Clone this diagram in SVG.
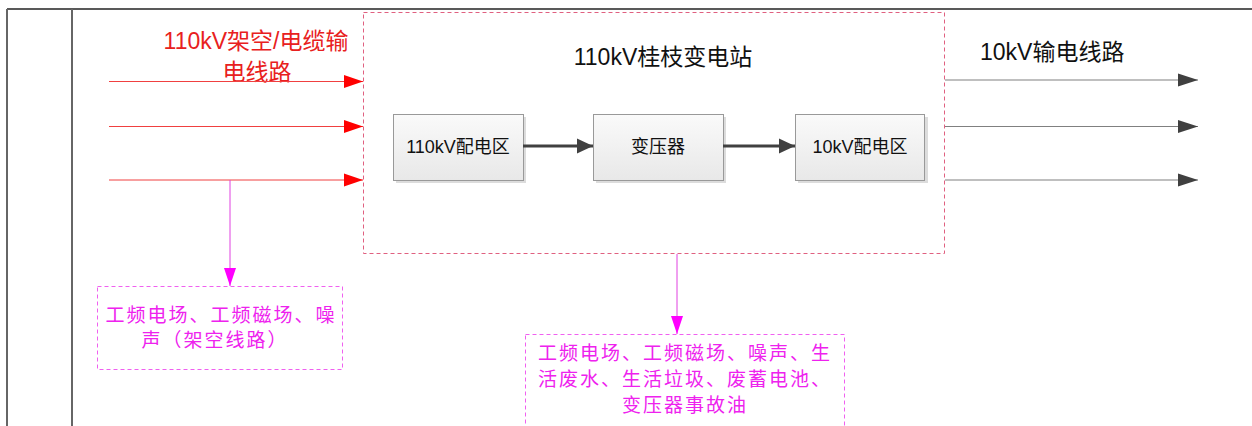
<svg xmlns="http://www.w3.org/2000/svg" width="1252" height="426" viewBox="0 0 1252 426">
<style>
.frame{stroke:#222;stroke-width:1.5;fill:none}
.frame2{stroke:#666;stroke-width:2;fill:none}
.red{stroke:#f04040;stroke-width:1;fill:none}
.gray{stroke:#808080;stroke-width:1.2;fill:none}
.dark{stroke:#404040;stroke-width:3;fill:none}
.mag{stroke:#e040e0;stroke-width:1;fill:none}
.dash{stroke:#e06080;stroke-width:1;stroke-dasharray:4 3;fill:none}
.mdash{stroke:#f060f0;stroke-width:1;stroke-dasharray:4 3;fill:#fff}
.box{fill:url(#g);stroke:#999;stroke-width:1}
.shadow{fill:#dcdcdc}
text{font-family:"Liberation Sans","Noto Sans CJK SC",sans-serif}
.t18{font-size:18px;fill:#111}
.t23{font-size:23px;fill:#111}
.tr{font-size:23px;fill:#e82020}
.tm{font-size:19px;fill:#ee22ee;letter-spacing:2px}
</style>
<defs>
<linearGradient id="g" x1="0" y1="0" x2="0" y2="1"><stop offset="0" stop-color="#fafafa"/><stop offset="1" stop-color="#e8e8e8"/></linearGradient>
<marker id="ar" markerWidth="19" markerHeight="14" refX="19" refY="7" orient="auto" markerUnits="userSpaceOnUse"><path d="M0,0.5 L19,7 L0,13.5 Z" fill="#ff0000"/></marker>
<marker id="ag" markerWidth="20" markerHeight="14" refX="20" refY="7" orient="auto" markerUnits="userSpaceOnUse"><path d="M0,0.5 L20,7 L0,13.5 Z" fill="#404040"/></marker>
<marker id="ad" markerWidth="16" markerHeight="16" refX="16" refY="8" orient="auto" markerUnits="userSpaceOnUse"><path d="M0,0.5 L16,8 L0,15.5 Z" fill="#404040"/></marker>
<marker id="am" markerWidth="18" markerHeight="13" refX="18" refY="6.5" orient="auto" markerUnits="userSpaceOnUse"><path d="M0,0.5 L18,6.5 L0,12.5 Z" fill="#ff00ff"/></marker>
</defs>
<rect width="1252" height="426" fill="#fff"/>
<g id="frame">
<line class="frame" x1="7" y1="9" x2="1252" y2="9"/>
<line class="frame2" x1="7" y1="9" x2="7" y2="426"/>
<line class="frame2" x1="72" y1="9" x2="72" y2="426"/>
</g>
<g id="station">
<rect class="dash" x="363.5" y="12.5" width="581" height="241"/>
<text class="t23" x="663" y="65" text-anchor="middle">110kV桂枝变电站</text>
</g>
<g id="n110">
<rect class="shadow" x="396" y="117" width="130" height="66"/>
<rect class="box" x="393.5" y="114.5" width="130" height="66"/>
<text class="t18" x="458" y="153" text-anchor="middle">110kV配电区</text>
</g>
<g id="transformer">
<rect class="shadow" x="596" y="117" width="130" height="66"/>
<rect class="box" x="593.5" y="114.5" width="130" height="66"/>
<text class="t18" x="658" y="153" text-anchor="middle">变压器</text>
</g>
<g id="n10">
<rect class="shadow" x="798" y="117" width="130" height="66"/>
<rect class="box" x="795.5" y="114.5" width="129" height="66"/>
<text class="t18" x="860" y="153" text-anchor="middle">10kV配电区</text>
</g>
<g id="labels">
<text class="tr" x="256" y="49" text-anchor="middle">110kV架空/电缆输</text>
<text class="tr" x="257" y="80" text-anchor="middle">电线路</text>
<text class="t23" x="980" y="60">10kV输电线路</text>
</g>
<g id="emis1">
<rect class="mdash" x="97.5" y="286.5" width="245" height="83"/>
<text class="tm" x="221" y="322" text-anchor="middle">工频电场、工频磁场、噪</text>
<text class="tm" x="215" y="347" text-anchor="middle">声（架空线路）</text>
</g>
<g id="emis2">
<rect class="mdash" x="525.5" y="334.5" width="319" height="100"/>
<text class="tm" x="685" y="360" text-anchor="middle">工频电场、工频磁场、噪声、生</text>
<text class="tm" x="685" y="386" text-anchor="middle">活废水、生活垃圾、废蓄电池、</text>
<text class="tm" x="685" y="412" text-anchor="middle">变压器事故油</text>
</g>
<g id="connectors">
<line class="red" x1="109" y1="81.5" x2="363" y2="81.5" marker-end="url(#ar)"/>
<line class="red" x1="109" y1="126.5" x2="363" y2="126.5" marker-end="url(#ar)"/>
<line class="red" x1="109" y1="180" x2="363" y2="180" marker-end="url(#ar)"/>
<line class="gray" x1="945" y1="80" x2="1198" y2="80" marker-end="url(#ag)"/>
<line class="gray" x1="945" y1="126.5" x2="1198" y2="126.5" marker-end="url(#ag)"/>
<line class="gray" x1="945" y1="180" x2="1198" y2="180" marker-end="url(#ag)"/>
<line class="dark" x1="523" y1="146" x2="593" y2="146" marker-end="url(#ad)"/>
<line class="dark" x1="723" y1="146" x2="795" y2="146" marker-end="url(#ad)"/>
<line class="mag" x1="230" y1="180" x2="230" y2="286" marker-end="url(#am)"/>
<line class="mag" x1="677" y1="254" x2="677" y2="334" marker-end="url(#am)"/>
</g>
</svg>
